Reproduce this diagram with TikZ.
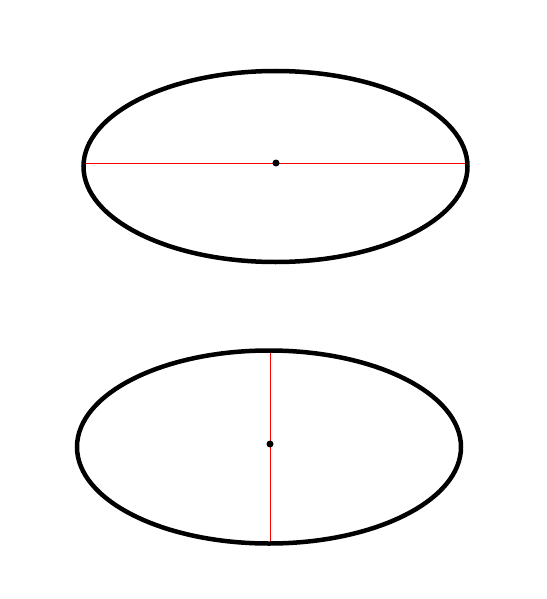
\documentclass[tikz,border=0pt]{standalone}
\begin{document}
\begin{tikzpicture}[x=1pt,y=-1pt,
  ell/.style={draw=black,line width=4.5pt},
  axis/.style={draw=red,line width=0.9pt},
  ctr/.style={fill=black}]
\useasboundingbox (0,0) rectangle (546,599);
\coordinate (e1) at (275.5,166.5);
\coordinate (e2) at (269,447);
\coordinate (c1) at (276,163);
\coordinate (c2) at (270,444);
\coordinate (l1) at (83.5,163);
\coordinate (r1) at (467.5,163);
\coordinate (t2) at (270,350.5);
\coordinate (b2) at (270,541.5);
\draw[axis] (l1) -- (r1);
\draw[axis] (t2) -- (b2);
\draw[ell] (e1) ellipse [x radius=192, y radius=95.5];
\draw[ell] (e2) ellipse [x radius=192, y radius=96.5];
\fill[ctr] (c1) circle (3.5);
\fill[ctr] (c2) circle (3.5);
\end{tikzpicture}
\end{document}
